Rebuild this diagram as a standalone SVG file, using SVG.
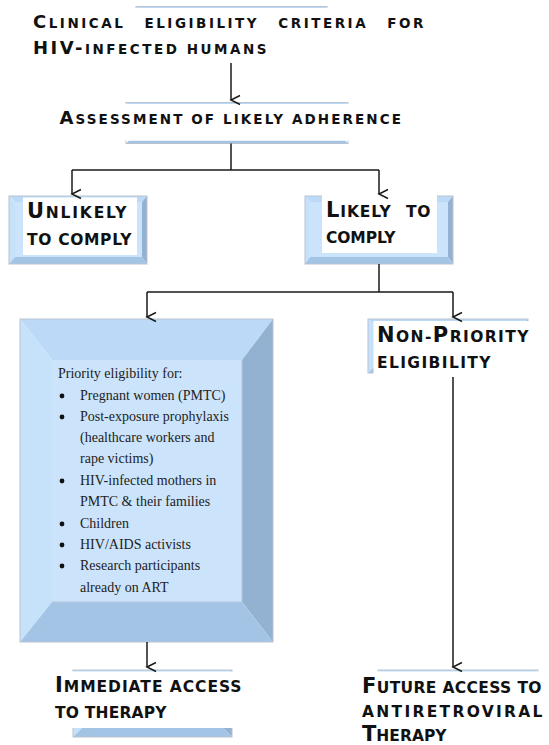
<svg xmlns="http://www.w3.org/2000/svg" width="549" height="745" viewBox="0 0 549 745">
<style>
.bg{fill:#ffffff}
.bt{fill:#bcdaf7}
.bl{fill:#c6e1fa}
.br{fill:#93b1d1}
.bb{fill:#a4c4e6}
.face{fill:#cce4fb}
.ol{fill:none;stroke:#b9c3cf;stroke-width:1}
.wh{fill:#ffffff}
.lbl{font-family:"DejaVu Sans","Liberation Sans",sans-serif;font-weight:bold;fill:#111111;letter-spacing:1.5px}
.c18{font-size:18px}
.s18{font-size:13.5px}
.c21{font-size:21px}
.s21{font-size:15.5px}
.body{font-family:"Liberation Serif","Times New Roman",serif;font-size:14px;fill:#222222}
.bul{fill:#111111}
.con{fill:none;stroke:#1a1a1a;stroke-width:1.5}
</style>
<defs>
<marker id="arr" markerUnits="userSpaceOnUse" markerWidth="12" markerHeight="12" viewBox="-6 -11 12 12" refX="0" refY="0" orient="auto" overflow="visible">
<path d="M-4.5,-9 L0,0 L4.5,-9" fill="none" stroke="#1a1a1a" stroke-width="1.5"/>
</marker>
</defs>
<rect class="bg" x="0" y="0" width="549" height="745"/>

<g id="node-clinical">
<polygon class="bt" points="136,6.5 327,6.5 324,9.5 139,9.5"/>
<rect class="ol" x="136" y="6.5" width="191" height="54"/>
<rect class="wh" x="28" y="8" width="404" height="54"/>
<text class="lbl" x="33" y="28" textLength="392" lengthAdjust="spacing" word-spacing="12"><tspan class="c18">C</tspan><tspan class="s18">LINICAL ELIGIBILITY CRITERIA FOR</tspan></text>
<text class="lbl" x="33" y="54" textLength="235" lengthAdjust="spacing"><tspan class="c18">HIV-</tspan><tspan class="s18">INFECTED HUMANS</tspan></text>
</g>

<g id="node-assessment">
<polygon class="bt" points="126,102.5 348,102.5 345,105.5 129,105.5"/>
<polygon class="bb" points="126,143.5 129,140.5 345,140.5 348,143.5"/>
<rect class="ol" x="126" y="102.5" width="222" height="41"/>
<rect class="wh" x="56" y="104" width="350" height="36.5"/>
<text class="lbl" x="59.5" y="124" textLength="343" lengthAdjust="spacing"><tspan class="c18">A</tspan><tspan class="s18">SSESSMENT OF LIKELY ADHERENCE</tspan></text>
</g>

<g id="node-unlikely">
<polygon class="bt" points="9,196 147,196 142,202 15,202"/>
<polygon class="bl" points="9,196 15,202 15,257 9,264"/>
<polygon class="br" points="147,196 147,264 142,257 142,202"/>
<polygon class="bb" points="9,264 15,257 142,257 147,264"/>
<rect class="face" x="15" y="202" width="127" height="55"/>
<rect class="ol" x="9" y="196" width="138" height="68"/>
<rect class="wh" x="23" y="197.5" width="114" height="57.5"/>
<text class="lbl" x="27" y="218" textLength="101" lengthAdjust="spacing"><tspan class="c21">U</tspan><tspan class="s21">NLIKELY</tspan></text>
<text class="lbl" x="27" y="245" textLength="106" lengthAdjust="spacing"><tspan class="s21">TO COMPLY</tspan></text>
</g>

<g id="node-likely">
<polygon class="bt" points="305,196 453,196 448,202 310,202"/>
<polygon class="bl" points="305,196 310,202 310,257 305,264"/>
<polygon class="br" points="453,196 453,264 448,257 448,202"/>
<polygon class="bb" points="305,264 310,257 448,257 453,264"/>
<rect class="face" x="310" y="202" width="138" height="55"/>
<rect class="ol" x="305" y="196" width="148" height="68"/>
<rect class="wh" x="322" y="195" width="115" height="58"/>
<text class="lbl" x="326" y="217" textLength="106" lengthAdjust="spacing" word-spacing="8"><tspan class="c21">L</tspan><tspan class="s21">IKELY TO</tspan></text>
<text class="lbl" x="326" y="243" textLength="71" lengthAdjust="spacing"><tspan class="s21">COMPLY</tspan></text>
</g>

<g id="node-priority">
<polygon class="bt" points="20,319 273,319 242,360 52,360"/>
<polygon class="bl" points="20,319 52,360 52,602 20,642"/>
<polygon class="br" points="273,319 273,642 242,602 242,360"/>
<polygon class="bb" points="20,642 52,602 242,602 273,642"/>
<rect class="face" x="52" y="360" width="190" height="242"/>
<line x1="52" y1="602" x2="242" y2="602" stroke="#b3c6da" stroke-width="1"/>
<line x1="242" y1="360" x2="242" y2="602" stroke="#b3c6da" stroke-width="1"/>
<rect class="ol" x="20" y="319" width="253" height="323"/>
<text class="body" x="58" y="378">Priority eligibility for:</text>
<circle class="bul" cx="62" cy="396" r="2.4"/>
<text class="body" x="80" y="400">Pregnant women (PMTC)</text>
<circle class="bul" cx="62" cy="417" r="2.4"/>
<text class="body" x="80" y="421">Post-exposure prophylaxis</text>
<text class="body" x="80" y="442">(healthcare workers and</text>
<text class="body" x="80" y="463">rape victims)</text>
<circle class="bul" cx="62" cy="481" r="2.4"/>
<text class="body" x="80" y="485">HIV-infected mothers in</text>
<text class="body" x="80" y="506">PMTC &amp; their families</text>
<circle class="bul" cx="62" cy="524" r="2.4"/>
<text class="body" x="80" y="528">Children</text>
<circle class="bul" cx="62" cy="545" r="2.4"/>
<text class="body" x="80" y="549">HIV/AIDS activists</text>
<circle class="bul" cx="62" cy="566" r="2.4"/>
<text class="body" x="80" y="570">Research participants</text>
<text class="body" x="80" y="592">already on ART</text>
</g>

<g id="node-nonpriority">
<polygon class="bt" points="368,319 528,319 522,325 374,325"/>
<polygon class="bl" points="368,319 374,325 374,367 368,373"/>
<polygon class="br" points="528,319 528,373 522,367 522,325"/>
<polygon class="bb" points="368,373 374,367 522,367 528,373"/>
<rect class="face" x="374" y="325" width="148" height="42"/>
<rect class="ol" x="368" y="319" width="160" height="54"/>
<rect class="wh" x="373.5" y="321" width="162" height="56"/>
<text class="lbl" x="377" y="342" textLength="153" lengthAdjust="spacing"><tspan class="c21">N</tspan><tspan class="s21">ON-</tspan><tspan class="c21">P</tspan><tspan class="s21">RIORITY</tspan></text>
<text class="lbl" x="377" y="368" textLength="115" lengthAdjust="spacing"><tspan class="s21">ELIGIBILITY</tspan></text>
</g>

<g id="node-immediate">
<polygon class="bt" points="73,670 232,670 223,679 82,679"/>
<polygon class="bl" points="73,670 82,679 82,728 73,737"/>
<polygon class="br" points="232,670 232,737 223,728 223,679"/>
<polygon class="bb" points="73,737 82,728 223,728 232,737"/>
<rect class="ol" x="73" y="670" width="159" height="67"/>
<rect class="wh" x="48" y="671.5" width="197" height="56.5"/>
<text class="lbl" x="55" y="692" textLength="188" lengthAdjust="spacing"><tspan class="c21">I</tspan><tspan class="s21">MMEDIATE ACCESS</tspan></text>
<text class="lbl" x="55" y="718" textLength="113" lengthAdjust="spacing"><tspan class="s21">TO THERAPY</tspan></text>
</g>

<g id="node-future">
<polygon class="bt" points="378,670 538,670 529,679 387,679"/>
<rect class="ol" x="378" y="670" width="160" height="90"/>
<rect class="wh" x="355" y="671.5" width="194" height="74"/>
<text class="lbl" x="362" y="693" textLength="181" lengthAdjust="spacing"><tspan class="c21">F</tspan><tspan class="s21">UTURE ACCESS TO</tspan></text>
<text class="lbl" x="362" y="717" textLength="182" lengthAdjust="spacing"><tspan class="s21">ANTIRETROVIRAL</tspan></text>
<text class="lbl" x="362" y="741" textLength="86" lengthAdjust="spacing"><tspan class="c21">T</tspan><tspan class="s21">HERAPY</tspan></text>
</g>

<g id="connectors">
<path class="con" d="M231,63 V100" marker-end="url(#arr)"/>
<path class="con" d="M231,143.5 V170 M72,170 H379"/>
<path class="con" d="M72,170 V194" marker-end="url(#arr)"/>
<path class="con" d="M379,170 V194" marker-end="url(#arr)"/>
<path class="con" d="M379,264 V292 M147,292 H453"/>
<path class="con" d="M147,292 V317" marker-end="url(#arr)"/>
<path class="con" d="M453,292 V317" marker-end="url(#arr)"/>
<path class="con" d="M147,642 V667" marker-end="url(#arr)"/>
<path class="con" d="M453,377 V667" marker-end="url(#arr)"/>
</g>
</svg>
